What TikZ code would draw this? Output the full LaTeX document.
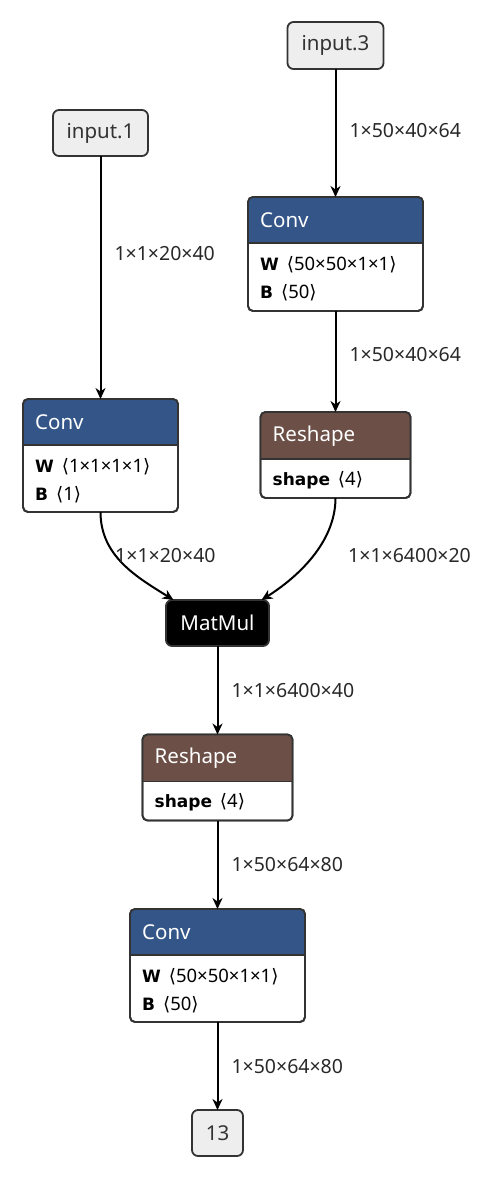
\documentclass[tikz,border=0pt]{standalone}
\usepackage{fontspec}
\setmainfont{Noto Sans}
\newfontfamily\brfont{DejaVu Sans}
\newcommand{\bw}[1]{{\brfont\bfseries\fontsize{17}{20}\selectfont #1}}
\usetikzlibrary{arrows.meta}
\definecolor{convc}{RGB}{51,85,136}
\definecolor{reshc}{RGB}{108,79,71}
\definecolor{bordc}{RGB}{51,51,51}
\definecolor{inc}{RGB}{238,238,238}
\definecolor{labc}{RGB}{40,40,40}
\newcommand{\myL}{{\brfont\,\char"27E8}}
\newcommand{\myR}{{\brfont\char"27E9}}
\newcommand{\hdr}[3]{%
  \begin{scope}
    \clip[rounded corners=5pt] (#1.north west) rectangle (#1.south east);
    \fill[#3] (#1.north west) rectangle ([yshift=-#2pt]#1.north east);
  \end{scope}
  \draw[bordc, line width=1.8pt] ([yshift=-#2pt]#1.north west) -- ([yshift=-#2pt]#1.north east);
  \draw[bordc, line width=1.8pt, rounded corners=5pt] (#1.north west) rectangle (#1.south east);
}
\begin{document}
\begin{tikzpicture}[x=1pt,y=-1pt,
  box/.style={draw=bordc, line width=1.8pt, rounded corners=5pt, inner sep=0pt, outer sep=0pt, fill=white},
  io/.style={draw=bordc, line width=1.8pt, rounded corners=6pt, fill=inc, inner sep=0pt, outer sep=0pt, font=\fontsize{20.5}{24}\selectfont, text=bordc},
  lab/.style={font=\fontsize{19.5}{23}\selectfont, text=labc, anchor=west, inner sep=0pt},
  arr/.style={-{Stealth[length=11pt,width=10pt,inset=3.5pt]}, line width=2pt},
  title/.style={anchor=west, text=white, font=\fontsize{20.5}{24}\selectfont, inner sep=0pt},
  attr/.style={anchor=west, font=\fontsize{18.5}{22}\selectfont, inner sep=0pt, text=black}]
\useasboundingbox (0,0) rectangle (500,1180);

\node[io, minimum width=95, minimum height=46] (i1) at (100.5,133) {input.1};
\node[io, minimum width=96, minimum height=47] (i3) at (335.5,45.5) {input.3};
\node[box, minimum width=175, minimum height=114] (c2) at (335.5,254) {};
\node[box, minimum width=155, minimum height=113] (c1) at (100.5,455.5) {};
\node[box, minimum width=150, minimum height=86] (r1) at (335.5,455) {};
\node[fill=black, draw=bordc, line width=1.8pt, rounded corners=6pt, inner sep=0pt, outer sep=0pt, minimum width=103, minimum height=46, text=white, font=\fontsize{20.5}{24}\selectfont] (mm) at (217.5,623) {MatMul};
\node[box, minimum width=150, minimum height=86] (r2) at (217.5,777.5) {};
\node[box, minimum width=175, minimum height=113] (c3) at (217.5,965.5) {};
\node[io, minimum width=51, minimum height=46] (o13) at (217.5,1133) {13};

\hdr{c2}{46}{convc}
\hdr{c1}{46}{convc}
\hdr{r1}{47}{reshc}
\hdr{r2}{47}{reshc}
\hdr{c3}{46}{convc}

\node[title] (c2t) at ([xshift=12pt,yshift=-23pt]c2.north west) {Conv};
\node[attr] (c2w) at ([xshift=12pt,yshift=-68pt]c2.north west) {\bw{W}\ \myL50×50×1×1\myR};
\node[attr] (c2b) at ([xshift=12pt,yshift=-96pt]c2.north west) {\bw{B}\ \myL50\myR};

\node[title] (c1t) at ([xshift=12pt,yshift=-23pt]c1.north west) {Conv};
\node[attr] (c1w) at ([xshift=12pt,yshift=-68pt]c1.north west) {\bw{W}\ \myL1×1×1×1\myR};
\node[attr] (c1b) at ([xshift=12pt,yshift=-96pt]c1.north west) {\bw{B}\ \myL1\myR};

\node[title] (r1t) at ([xshift=12pt,yshift=-24pt]r1.north west) {Reshape};
\node[attr] (r1s) at ([xshift=12pt,yshift=-68pt]r1.north west) {\bw{shape}\ \myL4\myR};

\node[title] (r2t) at ([xshift=12pt,yshift=-24pt]r2.north west) {Reshape};
\node[attr] (r2s) at ([xshift=12pt,yshift=-68pt]r2.north west) {\bw{shape}\ \myL4\myR};

\node[title] (c3t) at ([xshift=12pt,yshift=-23pt]c3.north west) {Conv};
\node[attr] (c3w) at ([xshift=12pt,yshift=-68pt]c3.north west) {\bw{W}\ \myL50×50×1×1\myR};
\node[attr] (c3b) at ([xshift=12pt,yshift=-96pt]c3.north west) {\bw{B}\ \myL50\myR};

\draw[arr] (i1) -- node[lab, pos=0.4, xshift=13pt] (l1) {1×1×20×40} (c1);
\draw[arr] (i3) -- node[lab, pos=0.48, xshift=13pt] (l2) {1×50×40×64} (c2);
\draw[arr] (c2) -- node[lab, pos=0.43, xshift=13pt] (l3) {1×50×40×64} (r1);
\draw[arr] (c1.south) .. controls +(0,45) and +(-35,-22) .. ([xshift=-44pt]mm.north);
\draw[arr] (r1.south) .. controls +(0,45) and +(35,-22) .. ([xshift=44pt]mm.north);
\node[lab] (l4) at (115,556) {1×1×20×40};
\node[lab] (l5) at (348,556) {1×1×6400×20};
\draw[arr] (mm) -- node[lab, pos=0.5, xshift=13pt] (l6) {1×1×6400×40} (r2);
\draw[arr] (r2) -- node[lab, pos=0.5, xshift=13pt] (l7) {1×50×64×80} (c3);
\draw[arr] (c3) -- node[lab, pos=0.51, xshift=13pt] (l8) {1×50×64×80} (o13);
\end{tikzpicture}
\end{document}
